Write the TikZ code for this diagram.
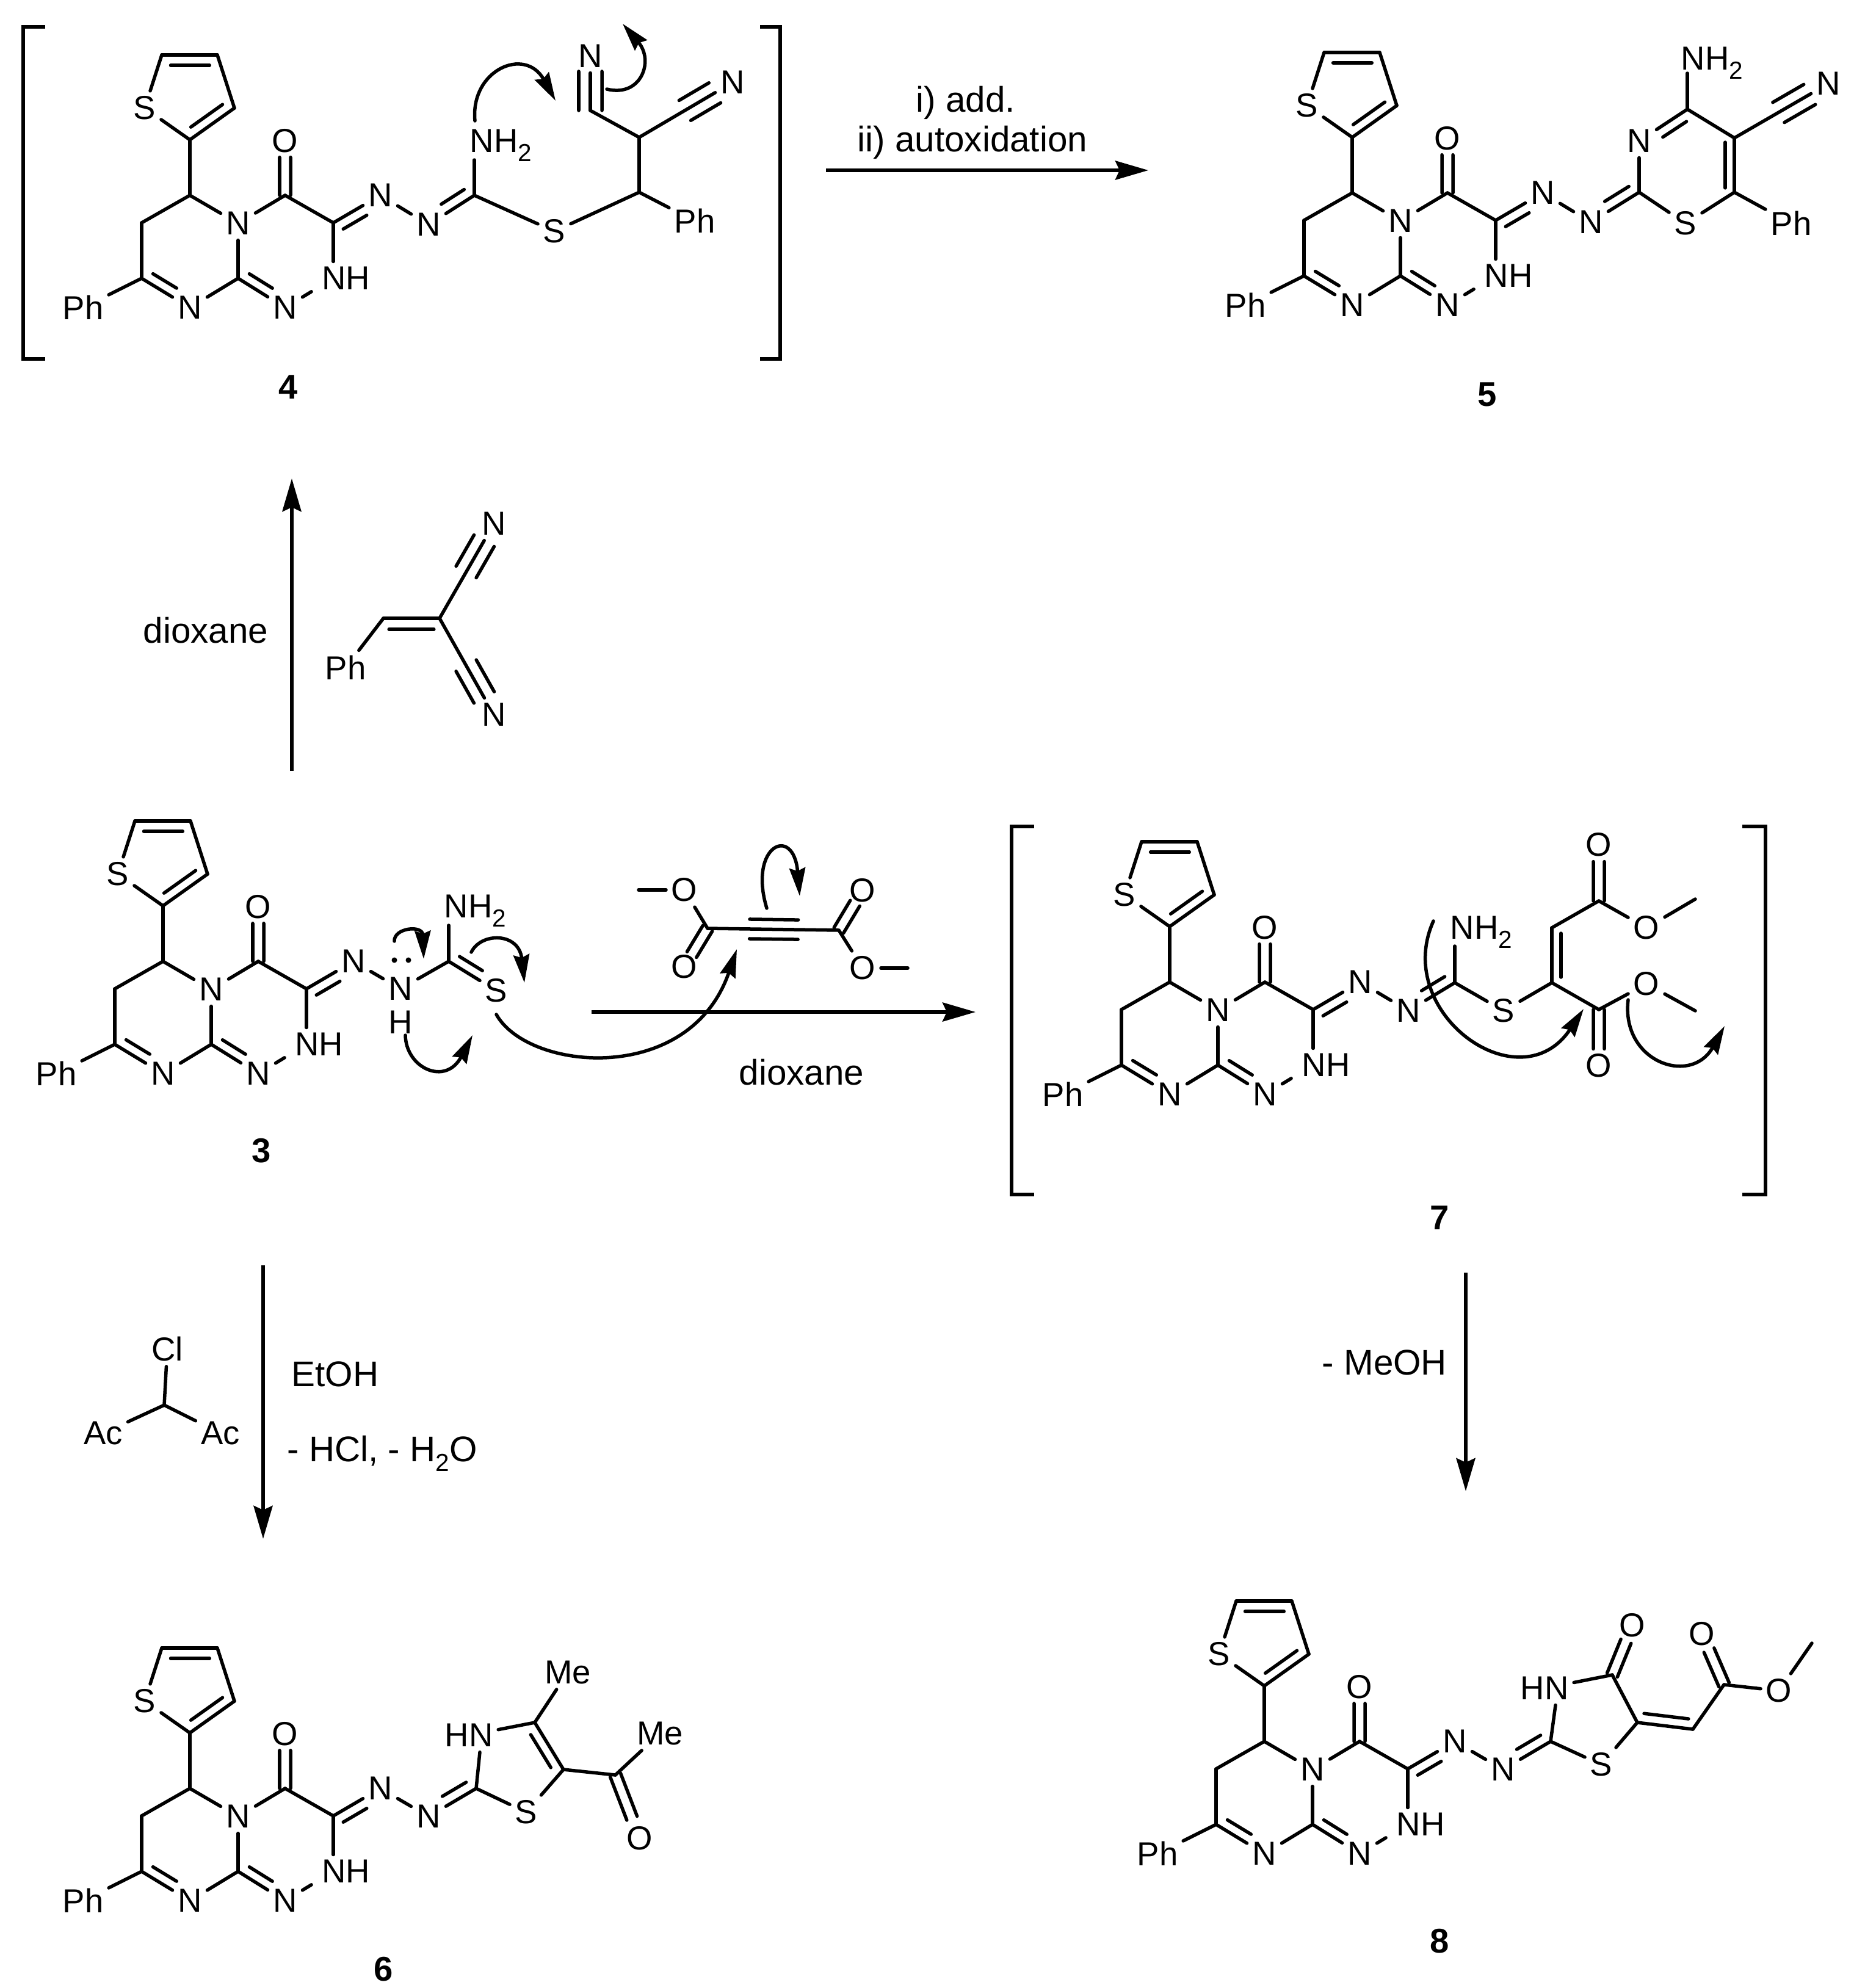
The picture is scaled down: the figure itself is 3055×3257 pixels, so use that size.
\documentclass[tikz,border=0pt]{standalone}
\usepackage{fontspec}
\setmainfont{Liberation Sans}
\usetikzlibrary{calc,arrows.meta}
\tikzset{
  bond/.style={line width=.055cm,line cap=round,line join=round},
  atom/.style={font=\fontsize{15.5}{18}\selectfont,inner sep=2.3pt},
  cond/.style={font=\fontsize{16.6}{20}\selectfont,inner sep=0pt},
  cpd/.style={font=\fontsize{16}{18}\selectfont\bfseries,inner sep=0pt},
  rxn/.style={line width=.055cm,-{Stealth[length=.54cm,width=.31cm,inset=.07cm]}},
  curly/.style={line width=.055cm,line cap=round,-{Stealth[length=.46cm,width=.26cm,inset=.05cm]}},
  brk/.style={line width=.065cm,line join=miter},
}
\newcommand\two{\raisebox{-.28em}{\fontsize{11.5}{12}\selectfont 2}}
\newcommand\At[3]{\node[atom] (#1) at (#2) {#3};}
\newcommand\Cn[2]{\coordinate (#1) at (#2);}
\newcommand\Bd[2]{\draw[bond] (#1) -- (#2);}
% double: main bond plus a parallel line (offset #3, from fraction #4 to #5)
\newcommand\Db[5]{\draw[bond] (#1) -- (#2);
  \draw[bond] ($(#1)!#4!(#2)!#3!90:(#2)$) -- ($(#1)!#5!(#2)!#3!90:(#2)$);}
% symmetric double: two parallel lines
\newcommand\Ds[3]{%
  \draw[bond] ($(#1)!0!(#2)!.09cm!90:(#2)$) -- ($(#1)!#3!(#2)!.09cm!90:(#2)$);
  \draw[bond] ($(#1)!0!(#2)!-.09cm!90:(#2)$) -- ($(#1)!#3!(#2)!-.09cm!90:(#2)$);}
% triple
\newcommand\Tr[4]{\draw[bond] (#1) -- (#2);
  \draw[bond] ($(#1)!#3!(#2)!.19cm!90:(#2)$) -- ($(#1)!#4!(#2)!.19cm!90:(#2)$);
  \draw[bond] ($(#1)!#3!(#2)!-.19cm!90:(#2)$) -- ($(#1)!#4!(#2)!-.19cm!90:(#2)$);}
% the tricyclic core, drawn in the frame of compound 4
\newcommand\core{%
  \Cn{TL}{265,90}\Cn{TR}{356,90}\Cn{R}{384,177}\Cn{C2}{311,229}\At{S}{237,177}{S}
  \Cn{C6}{311,320}\Cn{C7}{232,365}\Cn{C8}{232,456}\At{Nb}{311,504}{N}\Cn{C9}{390,456}
  \At{Na}{390,366}{N}\Cn{C4}{467,320}\At{O}{467,231}{O}\Cn{C3}{546,365}
  \At{NH}{567,456}{NH}\At{Nc}{467,504}{N}\At{Ph}{136,504}{Ph}\At{N1}{623,320}{N}
  \Bd{S}{TL}\Db{TL}{TR}{-.17cm}{.16}{.86}\Bd{TR}{R}\Db{C2}{R}{.16cm}{.15}{.86}\Bd{C2}{S}
  \Bd{C2}{C6}\Bd{C6}{C7}\Bd{C7}{C8}\Bd{C6}{Na}\Bd{Na}{C9}
  \Db{C8}{Nb}{.16cm}{.13}{.62}\Bd{Nb}{C9}\Db{C9}{Nc}{.16cm}{.13}{.62}\Bd{C8}{Ph}
  \Bd{Na}{C4}\Bd{C4}{C3}\Ds{C4}{O}{.7}\Db{C3}{N1}{-.17cm}{.1}{.6}
  \draw[bond] (C3) -- (C3 |- NH.north);
  \draw[bond,shorten >=.42cm] (Nc) -- (C3 |- NH);
}
\begin{document}
\begin{tikzpicture}[x=.01cm,y=-.01cm]
\useasboundingbox (0,0) rectangle (3055,3257);
\fill[white] (0,0) rectangle (3055,3257);

%%% ---------- compound 4
\begin{scope}[name prefix=m4-]\core\end{scope}
\At{n4a}{702,368}{N}\Cn{c4a}{777,320}\At{s4}{908,379}{S}\Cn{c4b}{1047,315}\At{ph4}{1138,362}{Ph}
\Cn{c4c}{1047,225}\Cn{c4d}{967,181}\At{n4b}{967,92}{N}\At{n4c}{1200,135}{N}
\node[atom,anchor=base west] (nh4) at (761,249) {NH\two};
\Cn{nh4b}{777,262}
\Bd{m4-N1}{n4a}\Db{c4a}{n4a}{-.17cm}{.1}{.6}\Bd{c4a}{nh4b}\Bd{c4a}{s4}\Bd{s4}{c4b}\Bd{c4b}{ph4}\Bd{c4b}{c4c}
\Bd{c4c}{c4d}\Tr{c4d}{n4b}{0}{.72}\Tr{c4c}{n4c}{.49}{.81}
\Cn{br4a}{74,44}\Cn{br4b}{38,44}\Cn{br4c}{38,588}\Cn{br4d}{74,588}
\draw[brk] (br4a) -- (br4b) -- (br4c) -- (br4d);
\Cn{br4e}{1245,44}\Cn{br4f}{1278,44}\Cn{br4g}{1278,588}\Cn{br4h}{1245,588}
\draw[brk] (br4e) -- (br4f) -- (br4g) -- (br4h);
\Cn{k4a}{778,198}\Cn{k4b}{910,165}\draw[curly] (k4a) .. controls (770,115) and (860,75) .. (k4b);
\Cn{k4c}{994,146}\Cn{k4d}{1020,39}\draw[curly] (k4c) .. controls (1050,160) and (1072,100) .. (k4d);
\node[cpd] (l4) at (472,634) {4};

%%% ---------- arrow 4 to 5
\Cn{a45s}{1353,279}\Cn{a45e}{1881,279}\draw[rxn] (a45s) -- (a45e);
\node[cond] (c45a) at (1582,168) {i) add.};
\node[cond] (c45b) at (1593,233) {ii) autoxidation};

%%% ---------- compound 5
\begin{scope}[shift={(1904,-4)},name prefix=m5-]\core\end{scope}
\At{n5a}{2606,364}{N}\Cn{c5a}{2685,315}\At{s5}{2761,366}{S}\Cn{c5b}{2841,315}\At{ph5}{2934,366}{Ph}
\Cn{c5c}{2841,226}\Cn{c5d}{2764,179}\At{n5b}{2685,231}{N}\At{n5c}{2995,137}{N}
\node[atom,anchor=base west] (nh5) at (2745,114) {NH\two};
\Cn{nh5b}{2764,120}
\Bd{m5-N1}{n5a}\Db{c5a}{n5a}{-.17cm}{.1}{.6}\Bd{c5a}{s5}\Bd{s5}{c5b}\Bd{c5b}{ph5}\Db{c5c}{c5b}{-.15cm}{.08}{.92}
\Bd{c5c}{c5d}\Db{c5d}{n5b}{.16cm}{.13}{.62}\Bd{n5b}{c5a}\Bd{c5d}{nh5b}\Tr{c5c}{n5c}{.47}{.8}
\node[cpd] (l5) at (2436,646) {5};

%%% ---------- arrow 3 to 4 with reagent
\Cn{a34s}{478,1263}\Cn{a34e}{478,784}\draw[rxn] (a34s) -- (a34e);
\node[cond] (c34) at (337,1033) {dioxane};
\At{phr}{566,1094}{Ph}\Cn{r1}{628,1013}\Cn{r2}{720,1013}\At{nr1}{809,858}{N}\At{nr2}{809,1171}{N}
\Bd{phr}{r1}\Db{r1}{r2}{-.18cm}{.1}{.9}\Tr{r2}{nr1}{.49}{.82}\Tr{r2}{nr2}{.49}{.82}

%%% ---------- compound 3
\begin{scope}[shift={(-44,1255)},name prefix=m3-]\core\end{scope}
\At{n3a}{656,1620}{N}\node[atom] (h3) at (656,1675) {H};
\Cn{c3a}{735,1575}\At{s3}{813,1623}{S}
\node[atom,anchor=base west] (nh3) at (719,1503) {NH\two};
\Cn{nh3b}{735,1516}
\Bd{m3-N1}{n3a}\Bd{n3a}{c3a}\Db{c3a}{s3}{.16cm}{.12}{.6}\Bd{c3a}{nh3b}
\fill (646,1573) circle (.045cm) (669,1573) circle (.045cm);
\Cn{k3a}{646,1542}\Cn{k3b}{694,1571}\draw[curly] (k3a) .. controls (645,1520) and (692,1515) .. (k3b);
\Cn{k3c}{772,1560}\Cn{k3d}{859,1610}\draw[curly] (k3c) .. controls (788,1527) and (850,1527) .. (k3d);
\Cn{k3e}{664,1696}\Cn{k3f}{774,1696}\draw[curly] (k3e) .. controls (665,1750) and (730,1780) .. (k3f);
\Cn{k3g}{813,1662}\Cn{k3h}{1207,1555}\draw[curly] (k3g) .. controls (865,1755) and (1130,1780) .. (k3h);
\Cn{k3i}{1256,1488}\Cn{k3j}{1310,1468}\draw[curly] (k3i) .. controls (1225,1385) and (1300,1350) .. (k3j);
\node[cpd] (l3) at (428,1885) {3};

%%% ---------- DMAD and arrow 3 to 7
\Cn{d1}{1159,1521}\Cn{d2}{1374,1524}
\At{do1}{1121,1458}{O}\At{do2}{1121,1584}{O}\At{do3}{1413,1459}{O}\At{do4}{1413,1586}{O}
\Cn{dm1}{1046,1458}\Cn{dm2}{1487,1586}
\draw[bond] (do1) -- (dm1); \draw[bond] (do4) -- (dm2);
\Bd{do1}{d1}\Ds{d1}{do2}{.68}\Ds{d2}{do3}{.68}\Bd{d2}{do4}
\draw[bond] (d1) -- (d2);
\draw[bond] ($(d1)!.32!(d2)!.16cm!90:(d2)$) -- ($(d1)!.69!(d2)!.16cm!90:(d2)$);
\draw[bond] ($(d1)!.32!(d2)!-.16cm!90:(d2)$) -- ($(d1)!.69!(d2)!-.16cm!90:(d2)$);
\Cn{a37s}{969,1658}\Cn{a37e}{1598,1658}\draw[rxn] (a37s) -- (a37e);
\node[cond] (c37) at (1313,1757) {dioxane};

%%% ---------- compound 7
\begin{scope}[shift={(1605,1289)},name prefix=m7-]\core\end{scope}
\At{n7a}{2307,1656}{N}\Cn{c7a}{2383,1610}\At{s7}{2463,1656}{S}\Cn{c7b}{2542,1610}\Cn{c7c}{2542,1520}
\Cn{c7d}{2619,1476}\At{o7a}{2619,1384}{O}\At{o7b}{2697,1520}{O}\Cn{m7a}{2777,1473}
\Cn{c7e}{2619,1654}\At{o7c}{2619,1746}{O}\At{o7d}{2697,1612}{O}\Cn{m7b}{2777,1656}
\node[atom,anchor=base west] (nh7) at (2367,1538) {NH\two};
\Cn{nh7b}{2383,1550}
\Bd{m7-N1}{n7a}\Db{c7a}{n7a}{-.17cm}{.1}{.6}\Bd{c7a}{nh7b}\Bd{c7a}{s7}\Bd{s7}{c7b}
\Db{c7b}{c7c}{-.15cm}{.1}{.9}\Bd{c7c}{c7d}\Ds{c7d}{o7a}{.7}\Bd{c7d}{o7b}\Bd{o7b}{m7a}
\Bd{c7b}{c7e}\Ds{c7e}{o7c}{.7}\Bd{c7e}{o7d}\Bd{o7d}{m7b}
\Cn{br7a}{1694,1354}\Cn{br7b}{1657,1354}\Cn{br7c}{1657,1957}\Cn{br7d}{1694,1957}
\draw[brk] (br7a) -- (br7b) -- (br7c) -- (br7d);
\Cn{br7e}{2854,1354}\Cn{br7f}{2892,1354}\Cn{br7g}{2892,1957}\Cn{br7h}{2854,1957}
\draw[brk] (br7e) -- (br7f) -- (br7g) -- (br7h);
\Cn{k7a}{2348,1509}\Cn{k7b}{2594,1653}\draw[curly] (k7a) .. controls (2280,1660) and (2490,1810) .. (k7b);
\Cn{k7c}{2667,1638}\Cn{k7d}{2825,1681}\draw[curly] (k7c) .. controls (2655,1740) and (2770,1780) .. (k7d);
\node[cpd] (l7) at (2358,1995) {7};

%%% ---------- arrow 7 to 8
\Cn{a78s}{2401,2085}\Cn{a78e}{2401,2443}\draw[rxn] (a78s) -- (a78e);
\node[cond] (c78) at (2268,2232) {- MeOH};

%%% ---------- arrow 3 to 6 with reagent
\Cn{a36s}{431,2073}\Cn{a36e}{431,2521}\draw[rxn] (a36s) -- (a36e);
\node[cond] (c36a) at (549,2251) {EtOH};
\node[cond] (c36b) at (626,2381) {- HCl, - H\two O};
\At{cl}{274,2210}{Cl}\Cn{cr}{269,2302}\At{acl}{169,2348}{Ac}\At{acr}{361,2348}{Ac}
\Bd{cr}{cl}\Bd{cr}{acl}\Bd{cr}{acr}

%%% ---------- compound 6
\begin{scope}[shift={(0,2610)},name prefix=m6-]\core\end{scope}
\At{n6a}{702,2976}{N}\Cn{c6a}{780,2930}\At{s6}{862,2969}{S}\Cn{c6b}{923,2899}\Cn{c6c}{876,2822}
\At{hn6}{768,2843}{HN}\At{me6a}{930,2740}{Me}\Cn{c6d}{1008,2908}\At{me6b}{1081,2840}{Me}\At{o6}{1048,3012}{O}
\Bd{m6-N1}{n6a}\Db{c6a}{n6a}{-.17cm}{.1}{.6}\Bd{c6a}{s6}\Bd{s6}{c6b}\Db{c6c}{c6b}{-.16cm}{.15}{.85}
\draw[bond] (c6a) -- ([xshift=.18cm]hn6.south);
\Bd{hn6}{c6c}\Bd{c6c}{me6a}\Bd{c6b}{c6d}\Bd{c6d}{me6b}\Ds{c6d}{o6}{.68}
\node[cpd] (l6) at (628,3226) {6};

%%% ---------- compound 8
\begin{scope}[shift={(1760,2533)},name prefix=m8-]\core\end{scope}
\At{n8a}{2462,2899}{N}\Cn{c8a}{2540,2853}\At{s8}{2623,2891}{S}\Cn{c8b}{2682,2822}\Cn{c8c}{2641,2744}
\At{hn8}{2530,2766}{HN}\At{o8a}{2674,2663}{O}\Cn{c8d}{2773,2833}\Cn{c8e}{2824,2760}\At{o8b}{2788,2677}{O}
\At{o8c}{2914,2770}{O}\Cn{m8a}{2968,2692}
\Bd{m8-N1}{n8a}\Db{c8a}{n8a}{-.17cm}{.1}{.6}\Bd{c8a}{s8}\Bd{s8}{c8b}\Bd{c8b}{c8c}
\draw[bond] (c8a) -- ([xshift=.18cm]hn8.south);
\Bd{hn8}{c8c}\Ds{c8c}{o8a}{.68}\Db{c8b}{c8d}{.16cm}{.1}{.9}\Bd{c8d}{c8e}\Ds{c8e}{o8b}{.68}\Bd{c8e}{o8c}\Bd{o8c}{m8a}
\node[cpd] (l8) at (2358,3180) {8};
\end{tikzpicture}
\end{document}
